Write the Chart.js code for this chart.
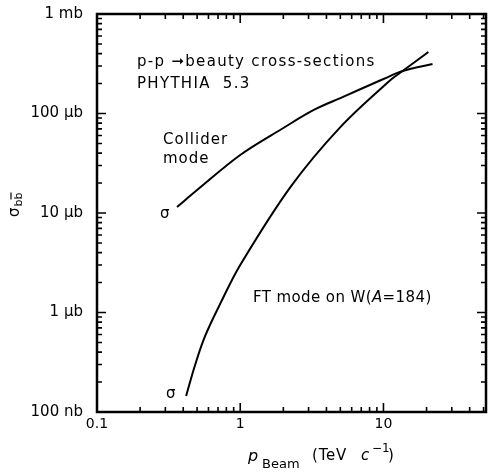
<!DOCTYPE html>
<html>
<head>
<meta charset="utf-8">
<script src="https://cdn.jsdelivr.net/npm/chart.js@4/dist/chart.umd.min.js"></script>
<style>
  html, body { margin: 0; padding: 0; background: #fff; }
  canvas { display: block; }
</style>
</head>
<body>
<canvas id="bbChart" width="492" height="474"></canvas>
<script>
// beam momentum (TeV/c) and cross-section (µb)
const colliderP = [0.362, 0.5, 1.0, 2.0, 3.24, 5.0, 10, 13.6, 22.0];
const colliderSigma = [11.5, 17.0, 38.3, 71.5, 108, 143, 222, 267, 314];

const ftP = [0.419, 0.484, 0.569, 0.724, 1.0, 2.24, 5.0, 11.2, 13.6, 20.6];
const ftSigma = [0.145, 0.297, 0.581, 1.22, 3.0, 18.2, 73, 217, 267, 415];

const xTickValues = [0.1, 1, 10];
const xTickLabels = ["0.1", "1", "10"];
const yTickValues = [0.1, 1, 10, 100, 1000];
const yTickLabels = ["100 nb", "1 \u00b5b", "10 \u00b5b", "100 \u00b5b", "1 mb"];

const FONT = "'DejaVu Sans', sans-serif";

function toPoints(xs, ys) {
    return xs.map((x, i) => ({ x: x, y: ys[i] }));
}

function minorValues(min, max) {
    const out = [];
    for (let d = min; d < max * 1.0001; d *= 10) {
        for (let k = 1; k <= 9; k++) {
            const v = d * k;
            if (v >= min * 0.9999 && v <= max * 1.0001) out.push({ v: v, major: k === 1 });
        }
    }
    return out;
}

const framePlugin = {
    id: "frameAndText",
    afterDraw(chart) {
        const ctx = chart.ctx;
        const a = chart.chartArea;
        const xs = chart.scales.x;
        const ys = chart.scales.y;

        ctx.save();
        ctx.strokeStyle = "#000";

        // inward ticks on all four sides
        ctx.lineWidth = 1.6;
        minorValues(0.1, xs.max).forEach(t => {
            const px = xs.getPixelForValue(t.v);
            if (px < a.left + 1 || px > a.right - 1) return;
            const len = t.major ? 9 : 5;
            ctx.beginPath();
            ctx.moveTo(px, a.bottom); ctx.lineTo(px, a.bottom - len);
            ctx.moveTo(px, a.top); ctx.lineTo(px, a.top + len);
            ctx.stroke();
        });
        minorValues(0.1, 1000).forEach(t => {
            const py = ys.getPixelForValue(t.v);
            if (py < a.top + 1 || py > a.bottom - 1) return;
            const len = t.major ? 9 : 5;
            ctx.beginPath();
            ctx.moveTo(a.left, py); ctx.lineTo(a.left + len, py);
            ctx.moveTo(a.right, py); ctx.lineTo(a.right - len, py);
            ctx.stroke();
        });

        // frame
        ctx.lineWidth = 2.5;
        ctx.strokeRect(a.left, a.top, a.right - a.left, a.bottom - a.top);

        // annotations
        ctx.fillStyle = "#000";
        ctx.textBaseline = "middle";
        ctx.textAlign = "left";
        ctx.font = "15px " + FONT;
        ctx.letterSpacing = "1.3px";
        ctx.fillText("p-p \u279ebeauty cross-sections", 137, 62);
        ctx.fillText("PHYTHIA  5.3", 137, 84);
        ctx.letterSpacing = "1px";
        ctx.fillText("Collider", 163, 140);
        ctx.fillText("mode", 163, 159);
        ctx.letterSpacing = "0.4px";
        ctx.fillText("FT mode on W(", 253, 298);
        let w = ctx.measureText("FT mode on W(").width;
        ctx.font = "italic 15px " + FONT;
        ctx.fillText("A", 253 + w, 298);
        w += ctx.measureText("A").width;
        ctx.font = "15px " + FONT;
        ctx.fillText("=184)", 253 + w, 298);
        ctx.letterSpacing = "0px";

        ctx.fillText("\u03c3", 160, 214);
        ctx.fillText("\u03c3", 166, 394);

        // y axis title: sigma with b b-bar subscript, rotated
        ctx.save();
        ctx.translate(15, 217);
        ctx.rotate(-Math.PI / 2);
        ctx.textAlign = "left";
        ctx.font = "15px " + FONT;
        ctx.fillText("\u03c3", 0, 0);
        const sw = ctx.measureText("\u03c3").width;
        ctx.font = "11px " + FONT;
        ctx.fillText("bb", sw + 1, 4);
        const bw = ctx.measureText("b").width;
        ctx.lineWidth = 1.2;
        ctx.beginPath();
        ctx.moveTo(sw + 1 + bw, -4);
        ctx.lineTo(sw + 1 + 2 * bw, -4);
        ctx.stroke();
        ctx.restore();

        // x axis title: p_Beam (TeV c^-1)
        ctx.textBaseline = "alphabetic";
        ctx.font = "italic 16px " + FONT;
        ctx.fillText("p", 248, 461);
        ctx.font = "13px " + FONT;
        ctx.fillText("Beam", 262, 468);
        ctx.font = "15px " + FONT;
        ctx.letterSpacing = "0.8px";
        ctx.fillText("(TeV", 312, 460);
        ctx.letterSpacing = "0px";
        ctx.font = "italic 15px " + FONT;
        ctx.fillText("c", 361, 460);
        ctx.font = "12px " + FONT;
        ctx.fillText("\u22121", 372, 452);
        ctx.font = "15px " + FONT;
        ctx.fillText(")", 388, 460);

        ctx.restore();
    }
};

const lineStyle = {
    borderColor: "#000",
    borderWidth: 2,
    pointRadius: 0,
    fill: false,
    tension: 0.35
};

new Chart(document.getElementById("bbChart"), {
    type: "line",
    data: {
        datasets: [
            { label: "Collider mode", data: toPoints(colliderP, colliderSigma), ...lineStyle },
            { label: "FT mode on W (A=184)", data: toPoints(ftP, ftSigma), ...lineStyle }
        ]
    },
    options: {
        responsive: false,
        animation: false,
        layout: { padding: { top: 14, right: 6, left: 0, bottom: 0 } },
        plugins: {
            legend: { display: false },
            tooltip: { enabled: false }
        },
        scales: {
            x: {
                type: "logarithmic",
                min: 0.1,
                max: 52,
                grid: { display: false, drawTicks: false },
                border: { display: false },
                afterBuildTicks: s => { s.ticks = xTickValues.map(v => ({ value: v })); },
                afterFit: s => { s.height = 62; s.paddingLeft = 0; s.paddingRight = 0; },
                ticks: {
                    autoSkip: false,
                    maxRotation: 0,
                    padding: 4,
                    color: "#000",
                    font: { family: FONT, size: 14 },
                    callback: (v, i) => xTickLabels[i]
                }
            },
            y: {
                type: "logarithmic",
                min: 0.1,
                max: 1000,
                grid: { display: false, drawTicks: false },
                border: { display: false },
                afterBuildTicks: s => { s.ticks = yTickValues.map(v => ({ value: v })); },
                afterFit: s => { s.width = 97; s.paddingTop = 0; s.paddingBottom = 0; },
                ticks: {
                    autoSkip: false,
                    padding: 14,
                    color: "#000",
                    font: { family: FONT, size: 15 },
                    callback: (v, i) => yTickLabels[i]
                }
            }
        }
    },
    plugins: [framePlugin]
});
</script>
</body>
</html>
